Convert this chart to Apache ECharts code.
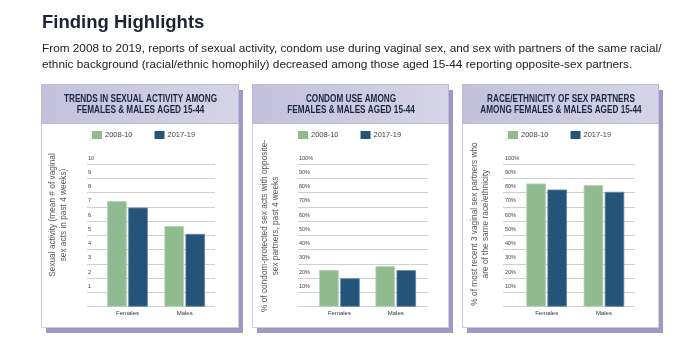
<!DOCTYPE html>
<html><head><meta charset="utf-8">
<script src="https://cdn.jsdelivr.net/npm/echarts@6/dist/echarts.min.js"></script>
<style>html,body{margin:0;padding:0;background:#fff}#c{width:700px;height:350px}</style>
</head><body><div id="c"></div>
<script>
const categories = ['Females', 'Males'];
const seriesNames = ['2008-10', '2017-19'];
// Panel 1: mean # of vaginal sex acts in past 4 weeks
const activity0810 = [7.4, 5.65];
const activity1719 = [6.95, 5.1];
// Panel 2: % condom-protected sex acts
const condom0810 = [25.7, 28.4];
const condom1719 = [19.9, 25.6];
// Panel 3: % same race/ethnicity partners
const homophily0810 = [86.3, 85.2];
const homophily1719 = [82.1, 80.5];
const ticks1 = ['', '1', '2', '3', '4', '5', '6', '7', '8', '9', '10'];
const ticksPct = ['', '10%', '20%', '30%', '40%', '50%', '60%', '70%', '80%', '90%', '100%'];

const panelTitles = [
  'TRENDS IN SEXUAL ACTIVITY AMONG\nFEMALES & MALES AGED 15-44',
  'CONDOM USE AMONG\nFEMALES & MALES AGED 15-44',
  'RACE/ETHNICITY OF SEX PARTNERS\nAMONG FEMALES & MALES AGED 15-44'
];
const yNames = [
  'Sexual activity (mean # of vaginal\nsex acts in past 4 weeks)',
  '% of condom-protected sex acts with opposite-\nsex partners, past 4 weeks',
  '% of most recent 3 vaginal sex partners who\nare of the same race/ethnicity'
];

const GREEN = '#8fbb8f', BLUE = '#245479';
const chart = echarts.init(document.getElementById('c'), null, {renderer: 'canvas'});

const panels = [
  {x: 41, w: 197, lineL: 87, lineW: 128, barL: 98.9, barW: 114.4, lm: 1, nameX: 58, nameY: 215, legL: 92,
   max: 10, interval: 1, labels: ticks1, d1: activity0810, d2: activity1719},
  {x: 252, w: 196, lineL: 298, lineW: 130, barL: 311.3, barW: 112.6, lm: 1, nameX: 270, nameY: 226, legL: 298,
   max: 100, interval: 10, labels: ticksPct, d1: condom0810, d2: condom1719},
  {x: 462, w: 196, lineL: 503, lineW: 132, barL: 518, barW: 114.6, lm: 2, nameX: 480, nameY: 224, legL: 508,
   max: 100, interval: 10, labels: ticksPct, d1: homophily0810, d2: homophily1719}
];
const TOP = 164, BOTTOM = 350 - 306.7, PTOP = 84, PBOT = 327, HEADH = 39;

const grid = [], xAxis = [], yAxis = [], series = [], legend = [], graphic = [];
const tickFont = {fontSize: 5.5, color: '#444', fontFamily: 'Liberation Sans, Arial'};

panels.forEach((p, i) => {
  grid.push({left: p.lineL, width: p.lineW, top: TOP, bottom: BOTTOM});
  grid.push({left: p.barL, width: p.barW, top: TOP, bottom: BOTTOM});
  const gL = i * 2, gB = i * 2 + 1;
  xAxis.push({gridIndex: gL, type: 'value', show: false, min: 0, max: 1});
  xAxis.push({gridIndex: gB, type: 'category', data: categories,
    axisLine: {show: false}, axisTick: {show: false},
    axisLabel: {margin: 4, fontSize: 6, color: '#333', fontFamily: 'Liberation Sans, Arial'}});
  yAxis.push({gridIndex: gL, type: 'value', min: 0, max: p.max, interval: p.interval,
    axisLine: {show: false}, axisTick: {show: false},
    splitLine: {show: true, lineStyle: {color: '#d0d0d0', width: 1}},
    axisLabel: Object.assign({inside: true, margin: p.lm, verticalAlign: 'bottom', padding: [0, 0, 3, 0],
      formatter: (v) => p.labels[Math.round(v / p.interval)]}, tickFont)});
  yAxis.push({gridIndex: gB, type: 'value', min: 0, max: p.max, show: false});
  series.push({type: 'bar', name: seriesNames[0], xAxisIndex: gB, yAxisIndex: gB, data: p.d1,
    barWidth: 19.5, barGap: '8%', itemStyle: {color: GREEN, borderColor: '#b3d0b3', borderWidth: 0.8}});
  series.push({type: 'bar', name: seriesNames[1], xAxisIndex: gB, yAxisIndex: gB, data: p.d2,
    barWidth: 19.5, barGap: '8%', itemStyle: {color: BLUE, borderColor: '#5f85a6', borderWidth: 0.8}});
  legend.push({data: seriesNames, left: p.legL, top: 131, padding: 0, itemWidth: 10, itemHeight: 8, itemGap: 22,
    icon: 'rect', selectedMode: false, itemStyle: {borderWidth: 0},
    textStyle: {fontSize: 7.5, color: '#444', padding: [0, 0, 0, -2], fontFamily: 'Liberation Sans, Arial'}});

  graphic.push({type: 'rect', z: -20, shape: {x: p.x + 5, y: PTOP + 6, width: p.w, height: PBOT - PTOP},
    style: {fill: '#9d99c6'}});
  graphic.push({type: 'rect', z: -19, shape: {x: p.x + 0.5, y: PTOP + 0.5, width: p.w, height: PBOT - PTOP},
    style: {fill: '#ffffff', stroke: '#cfcde0', lineWidth: 1}});
  graphic.push({type: 'rect', z: -18, shape: {x: p.x + 0.5, y: PTOP + 0.5, width: p.w, height: HEADH},
    style: {fill: new echarts.graphic.LinearGradient(0, 0, 1, 0, [
      {offset: 0, color: '#c3c0dc'}, {offset: 1, color: '#d6d4e8'}]), stroke: '#bdbad6', lineWidth: 1}});
  graphic.push({type: 'text', z: 10, x: p.x + p.w / 2 + 1, y: PTOP + HEADH / 2 + 1, scaleX: 0.82,
    style: {text: panelTitles[i], fill: '#1c2540', align: 'center', verticalAlign: 'middle',
      font: 'bold 10px "Liberation Sans", Arial', lineHeight: 11}});
  graphic.push({type: 'text', z: 10, x: p.nameX, y: p.nameY, rotation: Math.PI / 2,
    style: {text: yNames[i], fill: '#555', align: 'center', verticalAlign: 'middle',
      font: '8.3px "Liberation Sans", Arial', lineHeight: 10.5}});
});

graphic.push({type: 'text', x: 42, y: 23, z: 10,
  style: {text: 'Finding Highlights', fill: '#1b2232', verticalAlign: 'middle',
    font: 'bold 18.5px "Liberation Sans", Arial'}});
graphic.push({type: 'text', x: 42, y: 56.7, z: 10,
  style: {text: 'From 2008 to 2019, reports of sexual activity, condom use during vaginal sex, and sex with partners of the same racial/\nethnic background (racial/ethnic homophily) decreased among those aged 15-44 reporting opposite-sex partners.',
    fill: '#222', verticalAlign: 'middle', lineHeight: 16.5, font: '11.8px "Liberation Sans", Arial'}});

chart.setOption({
  animation: false,
  backgroundColor: '#fff',
  grid, xAxis, yAxis, series, legend, graphic
});
</script>
</body></html>
